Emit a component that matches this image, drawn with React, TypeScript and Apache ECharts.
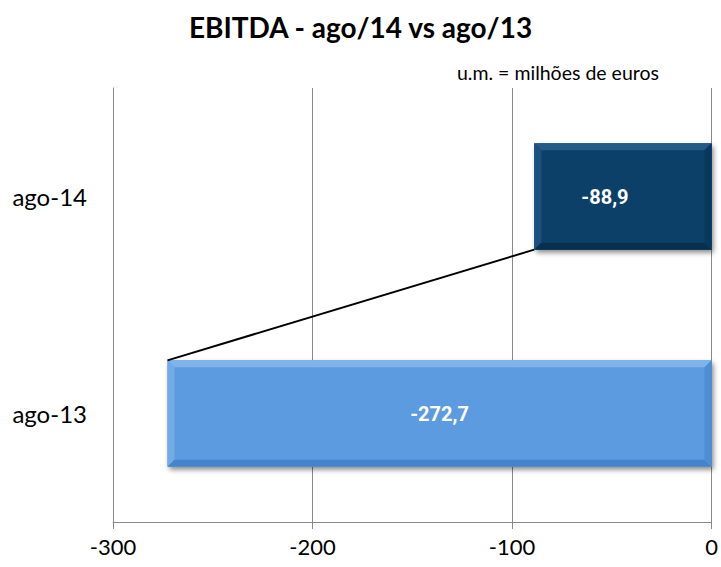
import React, { useEffect, useRef } from "react";
import * as echarts from "echarts";

const categories = ["ago-13", "ago-14"];
const values = [-272.7, -88.9];
const barColors = ["#5b9be0", "#0b4068"];
const bevelTop = ["#80b3ec", "#235a86"];
const bevelLeft = ["#74aae8", "#1b5180"];
const bevelBottom = ["#4584cc", "#06304f"];
const bevelRight = ["#4f8dd4", "#08385e"];
const labelTexts = ["-272,7", "-88,9"];
const xTicks = [-300, -200, -100, 0];

const BAR_FRAC = 0.49;

export default function App() {
  const ref = useRef<HTMLDivElement>(null);
  useEffect(() => {
    const chart = echarts.init(ref.current!, undefined, { renderer: "svg" });
    const barData = values.map((v, i) => ({
      value: v,
      itemStyle: { color: barColors[i] },
      label: { offset: i === 1 ? [-18, 0] : [0, 0] },
    }));
    chart.setOption({
      animation: false,
      title: [
        {
          text: "EBITDA - ago/14 vs ago/13",
          left: "center",
          top: 8,
          textStyle: { fontFamily: "Lato", fontWeight: "bold", fontSize: 28, color: "#000" },
        },
        {
          text: "u.m. = milhões de euros",
          left: 452,
          top: 57,
          textStyle: { fontFamily: "Lato", fontWeight: "normal", fontSize: 19.5, color: "#000" },
        },
      ],
      grid: { left: 113, right: 8, top: 88, bottom: 45 },
      xAxis: {
        type: "value",
        min: -300,
        max: 0,
        interval: 100,
        axisLine: { show: true, lineStyle: { color: "#888", width: 1 } },
        axisTick: { show: true, length: 7, lineStyle: { color: "#888" } },
        splitLine: { show: true, lineStyle: { color: "#888", width: 1 } },
        axisLabel: {
          fontFamily: "Lato",
          fontSize: 22,
          color: "#000",
          margin: 13,
          formatter: (v: number) => (xTicks.includes(v) ? String(v) : ""),
        },
      },
      yAxis: {
        type: "category",
        data: categories,
        axisLine: { show: true, onZero: false, lineStyle: { color: "#888" } },
        axisTick: { show: false },
        axisLabel: { fontFamily: "Lato", fontSize: 24, color: "#000", margin: 26 },
      },
      series: [
        {
          type: "bar",
          data: barData,
          barWidth: BAR_FRAC * 100 + "%",
          itemStyle: {
            shadowBlur: 5,
            shadowColor: "rgba(0,0,0,0.45)",
            shadowOffsetX: 2,
            shadowOffsetY: 3,
          },
          label: {
            show: true,
            position: "inside",
            formatter: (p: any) => labelTexts[p.dataIndex],
            fontFamily: "Roboto",
            fontWeight: "bold",
            fontSize: 20,
            color: "#fff",
          },
          z: 2,
        },
        {
          type: "custom",
          z: 3,
          silent: true,
          data: values.map((v, i) => [v, i]),
          renderItem: (params: any, api: any) => {
            const i = params.dataIndex;
            const p0 = api.coord([0, api.value(1)]);
            const p1 = api.coord([api.value(0), api.value(1)]);
            const h = api.size([0, 1])[1] * BAR_FRAC;
            const x0 = Math.min(p0[0], p1[0]);
            const x1 = Math.max(p0[0], p1[0]);
            const y0 = p0[1] - h / 2;
            const y1 = p0[1] + h / 2;
            const b = 7;
            return {
              type: "group",
              children: [
                {
                  type: "polygon",
                  shape: { points: [[x0, y0], [x1, y0], [x1 - b, y0 + b], [x0 + b, y0 + b]] },
                  style: { fill: bevelTop[i] },
                },
                {
                  type: "polygon",
                  shape: { points: [[x0, y0], [x0 + b, y0 + b], [x0 + b, y1 - b], [x0, y1]] },
                  style: { fill: bevelLeft[i] },
                },
                {
                  type: "polygon",
                  shape: { points: [[x0, y1], [x0 + b, y1 - b], [x1 - b, y1 - b], [x1, y1]] },
                  style: { fill: bevelBottom[i] },
                },
                {
                  type: "polygon",
                  shape: { points: [[x1, y0], [x1, y1], [x1 - b, y1 - b], [x1 - b, y0 + b]] },
                  style: { fill: bevelRight[i] },
                },
              ],
            };
          },
        },
        {
          type: "custom",
          z: 4,
          silent: true,
          data: [[values[1], values[0]]],
          renderItem: (params: any, api: any) => {
            const h = api.size([0, 1])[1] * BAR_FRAC;
            const a = api.coord([api.value(0), 1]);
            const c = api.coord([api.value(1), 0]);
            return {
              type: "line",
              shape: { x1: a[0], y1: a[1] + h / 2, x2: c[0], y2: c[1] - h / 2 },
              style: { stroke: "#000", lineWidth: 2 },
            };
          },
        },
      ],
    });
    return () => chart.dispose();
  }, []);
  return (
    <div
      ref={ref}
      style={{ position: "fixed", left: 0, top: 0, width: 721, height: 567, background: "#fff" }}
    />
  );
}
